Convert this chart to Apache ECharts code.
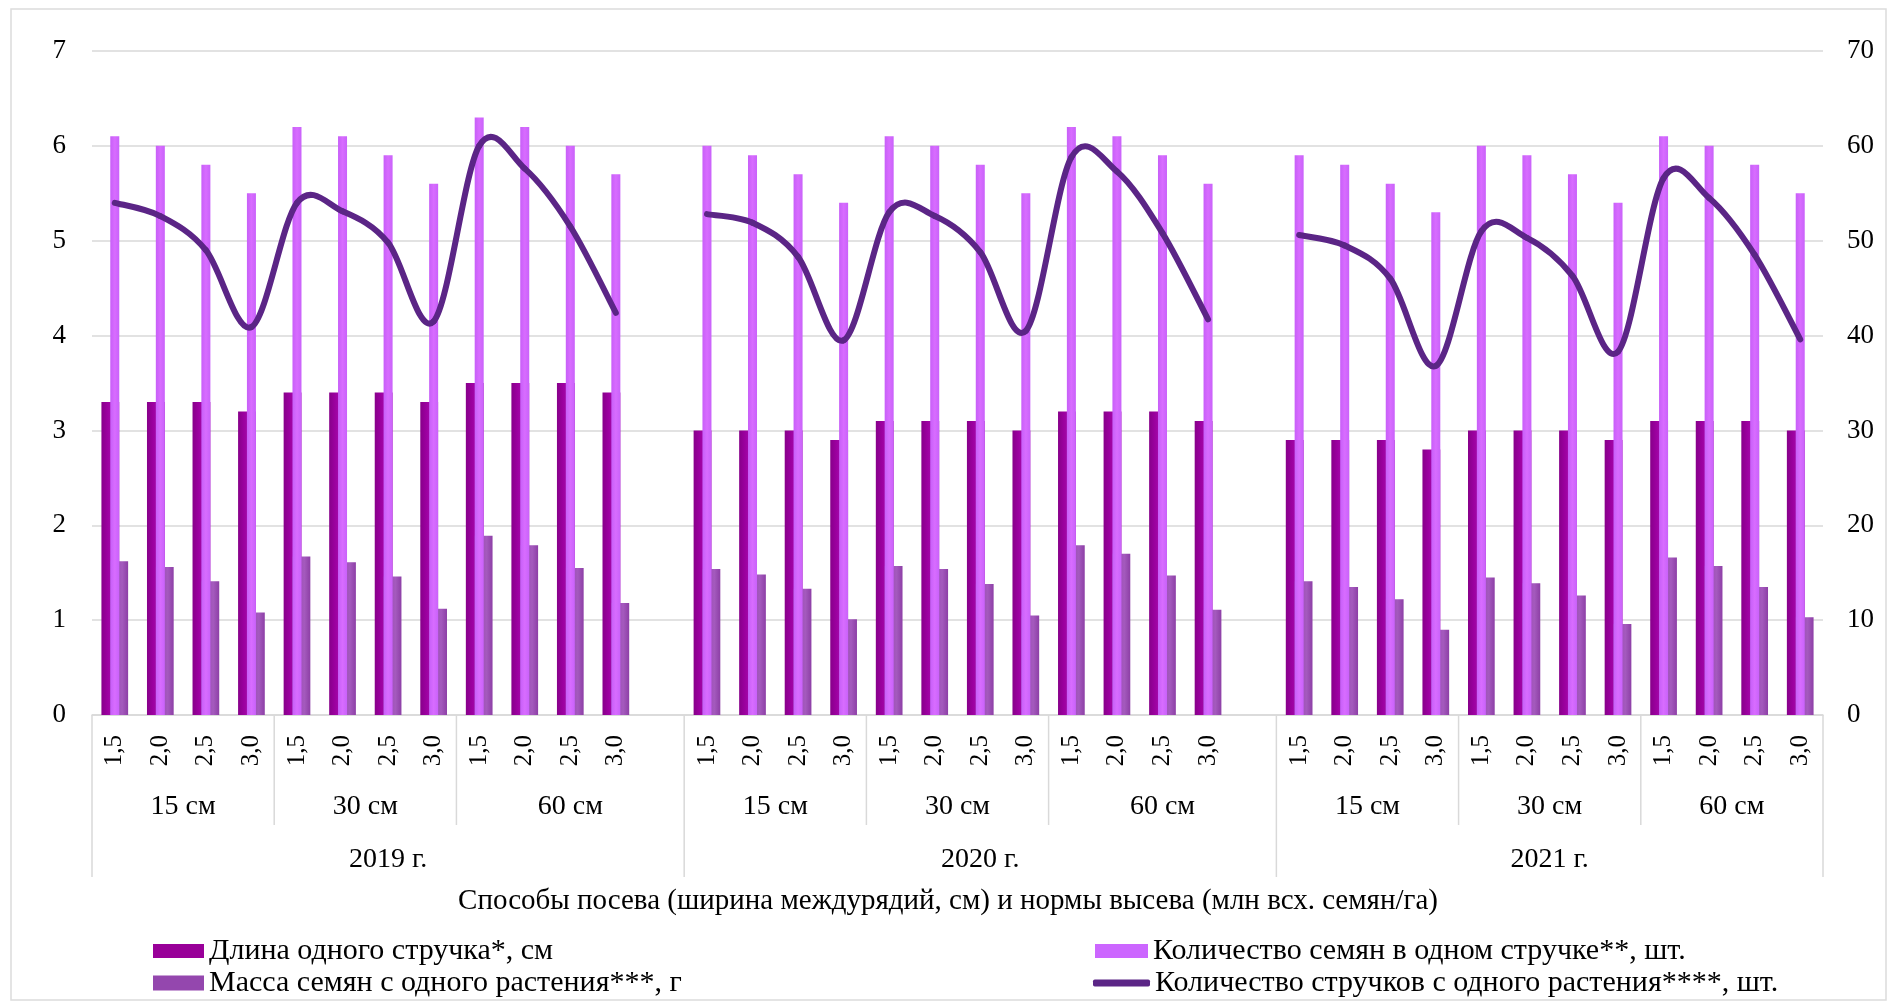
<!DOCTYPE html>
<html lang="ru">
<head>
<meta charset="utf-8">
<title>Элементы структуры урожая</title>
<script src="https://cdn.jsdelivr.net/npm/echarts@6/dist/echarts.min.js"></script>
<style>
  html, body { margin: 0; padding: 0; background: #ffffff; }
  #chart { width: 1899px; height: 1005px; }
</style>
</head>
<body>
<div id="chart"></div>
<script>
// Seeding rates (млн всх. семян/га), row spacings and years of the trial
const rates = ['1,5', '2,0', '2,5', '3,0'];
const spacings = ['15 см', '30 см', '60 см'];
const years = ['2019 г.', '2020 г.', '2021 г.'];

// Длина одного стручка, см (left axis) — one row per year
const podLength = [
  [3.3, 3.3, 3.3, 3.2, 3.4, 3.4, 3.4, 3.3, 3.5, 3.5, 3.5, 3.4],
  [3.0, 3.0, 3.0, 2.9, 3.1, 3.1, 3.1, 3.0, 3.2, 3.2, 3.2, 3.1],
  [2.9, 2.9, 2.9, 2.8, 3.0, 3.0, 3.0, 2.9, 3.1, 3.1, 3.1, 3.0]
];
// Масса семян с одного растения, г (left axis)
const seedMass = [
  [1.62, 1.56, 1.41, 1.08, 1.67, 1.61, 1.46, 1.12, 1.89, 1.79, 1.55, 1.18],
  [1.54, 1.48, 1.33, 1.01, 1.57, 1.54, 1.38, 1.05, 1.79, 1.70, 1.47, 1.11],
  [1.41, 1.35, 1.22, 0.90, 1.45, 1.39, 1.26, 0.96, 1.66, 1.57, 1.35, 1.03]
];
// Количество семян в одном стручке, шт. (right axis)
const seedsPerPod = [
  [61, 60, 58, 55, 62, 61, 59, 56, 63, 62, 60, 57],
  [60, 59, 57, 54, 61, 60, 58, 55, 62, 61, 59, 56],
  [59, 58, 56, 53, 60, 59, 57, 54, 61, 60, 58, 55]
];
// Количество стручков с одного растения, шт. (right axis)
const podsPerPlant = [
  [54.0, 52.6, 49.0, 40.9, 54.0, 53.1, 49.8, 41.5, 60.0, 57.6, 51.5, 42.4],
  [52.8, 51.9, 48.3, 39.5, 53.0, 52.6, 48.8, 40.5, 58.8, 57.3, 50.8, 41.7],
  [50.6, 49.5, 46.0, 36.8, 51.0, 50.3, 46.3, 38.3, 56.6, 54.5, 48.5, 39.6]
];

const leftTicks = { min: 0, max: 7, step: 1 };
const rightTicks = { min: 0, max: 70, step: 10 };

const seriesNames = [
  'Длина одного стручка*, см',
  'Масса семян с одного растения***, г',
  'Количество семян в одном стручке**, шт.',
  'Количество стручков с одного растения****, шт.'
];

const FONT = '"Liberation Serif", "Times New Roman", serif';
const LINE_COLOR = '#5b2586';

// One empty slot separates the years on the category axis
function withGaps(rows) {
  const out = [];
  rows.forEach(function (row, i) {
    row.forEach(function (v) { out.push(v); });
    if (i < rows.length - 1) out.push(null);
  });
  return out;
}
const categories = withGaps(years.map(function () {
  const r = [];
  spacings.forEach(function () { rates.forEach(function (t) { r.push(t); }); });
  return r;
})).map(function (c) { return c === null ? '' : c; });

function hGrad(stops) {
  return new echarts.graphic.LinearGradient(0, 0, 1, 0,
    stops.map(function (c, i) { return { offset: i / (stops.length - 1), color: c }; }));
}

// Smoothed line: one cubic Bezier per segment, Catmull-Rom style tangents
function renderSmoothSegment(params, api) {
  const i = params.dataIndexInside;
  const n = params.dataInsideLength;
  const val = function (k) { return (k < 0 || k >= n) ? NaN : api.value(1, k); };
  const v0 = val(i), v1 = val(i + 1);
  if (isNaN(v0) || isNaN(v1)) return null;
  const pt = function (k) { return api.coord([k, val(k)]); };
  const p0 = pt(i), p1 = pt(i + 1);
  const pm = isNaN(val(i - 1)) ? p0 : pt(i - 1);
  const p2 = isNaN(val(i + 2)) ? p1 : pt(i + 2);
  return {
    type: 'bezierCurve',
    shape: {
      x1: p0[0], y1: p0[1],
      cpx1: p0[0] + (p1[0] - pm[0]) / 6, cpy1: p0[1] + (p1[1] - pm[1]) / 6,
      cpx2: p1[0] - (p2[0] - p0[0]) / 6, cpy2: p1[1] - (p2[1] - p0[1]) / 6,
      x2: p1[0], y2: p1[1]
    },
    style: { stroke: LINE_COLOR, lineWidth: 6, fill: null, lineCap: 'round', lineJoin: 'round' }
  };
}

const chart = echarts.init(document.getElementById('chart'), null, { renderer: 'canvas' });

const legendText = { fontFamily: FONT, fontSize: 30, color: '#000', lineHeight: 34 };
function legendAt(name, left, centerY, w, h, icon, color) {
  return {
    data: [{ name: name, icon: icon, itemStyle: { color: color } }],
    left: left, top: centerY - 17, padding: 0,
    itemWidth: w, itemHeight: h, itemGap: 0,
    selectedMode: false,
    textStyle: legendText
  };
}

chart.setOption({
  animation: false,
  backgroundColor: '#ffffff',
  grid: { left: 92, right: 76, top: 51, bottom: 290, containLabel: false },
  legend: [
    legendAt(seriesNames[0], 153, 951, 51, 14, 'rect', '#990099'),
    legendAt(seriesNames[1], 153, 983, 51, 15, 'rect', '#9447ae'),
    legendAt(seriesNames[2], 1095, 951, 53, 14, 'rect', '#cc66ff'),
    legendAt(seriesNames[3], 1093, 983, 57, 7, 'roundRect', LINE_COLOR)
  ],
  xAxis: [
    {
      type: 'category', data: categories, boundaryGap: true,
      axisLine: { show: true, lineStyle: { color: '#d9d9d9', width: 1.5 } },
      axisTick: { show: false },
      axisLabel: { interval: 0, rotate: 90, margin: 20, fontFamily: FONT, fontSize: 25, color: '#000' },
      splitLine: { show: false }
    },
    { type: 'category', data: categories, show: false }
  ],
  yAxis: [
    {
      type: 'value', min: leftTicks.min, max: leftTicks.max, interval: leftTicks.step,
      axisLine: { show: false }, axisTick: { show: false },
      axisLabel: { margin: 26, fontFamily: FONT, fontSize: 27, color: '#000' },
      splitLine: { lineStyle: { color: '#d9d9d9', width: 1.5 } }
    },
    {
      type: 'value', position: 'right', min: rightTicks.min, max: rightTicks.max, interval: rightTicks.step,
      axisLine: { show: false }, axisTick: { show: false },
      axisLabel: { margin: 24, fontFamily: FONT, fontSize: 27, color: '#000' },
      splitLine: { show: false }
    }
  ],
  series: [
    {
      name: seriesNames[0], type: 'bar', xAxisIndex: 0, yAxisIndex: 0,
      data: withGaps(podLength), barWidth: 17.8, barGap: '-50%', z: 2,
      itemStyle: { color: hGrad(['#87008a', '#9c00a0', '#a80fae', '#96009a']) }
    },
    {
      name: seriesNames[1], type: 'bar', xAxisIndex: 0, yAxisIndex: 0,
      data: withGaps(seedMass), barWidth: 17.8, barGap: '-50%', z: 3,
      itemStyle: { color: hGrad(['#8c3ca8', '#9d4fb8', '#a45abd', '#8d3fa6']) }
    },
    {
      name: seriesNames[2], type: 'bar', xAxisIndex: 1, yAxisIndex: 1,
      data: withGaps(seedsPerPod), barWidth: 9, z: 4,
      itemStyle: { color: hGrad(['#c75ff8', '#d86cff', '#c962fa']) }
    },
    {
      name: seriesNames[3], type: 'custom', coordinateSystem: 'cartesian2d',
      xAxisIndex: 0, yAxisIndex: 1, z: 6,
      encode: { x: 0, y: 1 },
      itemStyle: { color: LINE_COLOR },
      data: withGaps(podsPerPlant).map(function (v, i) { return [i, v]; }),
      renderItem: renderSmoothSegment
    }
  ]
});

// Multi-level category labels, dividers, axis title and the outer frame
(function drawCategoryTable() {
  const p0 = chart.convertToPixel({ xAxisIndex: 0 }, 0);
  const p1 = chart.convertToPixel({ xAxisIndex: 0 }, 1);
  const step = p1 - p0;
  const xAt = function (i) { return p0 + step * i; };
  const axisY = chart.convertToPixel({ yAxisIndex: 0 }, 0);
  const subBottom = 825, yearBottom = 877;
  const line = { stroke: '#d9d9d9', lineWidth: 1.5 };
  const text = function (x, y, s, size) {
    return { type: 'text', x: x, y: y, silent: true,
      style: { text: s, fontFamily: FONT, fontSize: size, fill: '#000', align: 'center', verticalAlign: 'middle' } };
  };
  const els = [];
  let start = 0;
  years.forEach(function (y, yi) {
    const perYear = spacings.length * rates.length + (yi < years.length - 1 ? 1 : 0);
    const yLeft = start - 0.5, yRight = start + perYear - 0.5;
    spacings.forEach(function (s, si) {
      const gl = start + si * rates.length - 0.5;
      const gr = si === spacings.length - 1 ? yRight : gl + rates.length;
      els.push(text((xAt(gl) + xAt(gr)) / 2, 807, s, 28));
      if (si > 0) {
        els.push({ type: 'line', silent: true, shape: { x1: xAt(gl), y1: axisY, x2: xAt(gl), y2: subBottom }, style: line });
      }
    });
    els.push(text((xAt(yLeft) + xAt(yRight)) / 2, 860, y, 28));
    els.push({ type: 'line', silent: true, shape: { x1: xAt(yLeft), y1: axisY, x2: xAt(yLeft), y2: yearBottom }, style: line });
    if (yi === years.length - 1) {
      els.push({ type: 'line', silent: true, shape: { x1: xAt(yRight), y1: axisY, x2: xAt(yRight), y2: yearBottom }, style: line });
    }
    start += perYear;
  });
  els.push(text(948, 901, 'Способы посева (ширина междурядий, см) и нормы высева (млн всх. семян/га)', 29));
  els.push({ type: 'rect', silent: true, z: -10, shape: { x: 11, y: 9, width: 1875, height: 991 },
    style: { fill: null, stroke: '#dcdcdc', lineWidth: 1.5 } });
  chart.setOption({ graphic: els });
})();
</script>
</body>
</html>
